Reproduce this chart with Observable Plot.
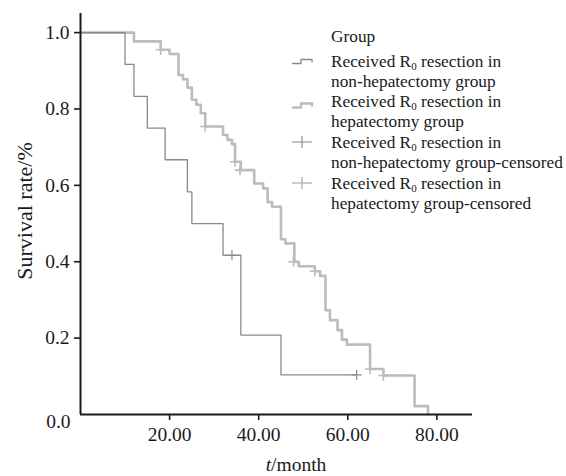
<!DOCTYPE html>
<html><head><meta charset="utf-8">
<script src="https://cdn.jsdelivr.net/npm/d3@7"></script>
<script src="https://cdn.jsdelivr.net/npm/@observablehq/plot@0.6"></script>
<style>body{margin:0;background:#fff}#chart{width:566px;height:476px}</style>
</head><body><div id="chart"></div>
<script>
// Non-hepatectomy group (Kaplan–Meier steps)
const nonHepTime = [0, 10, 12, 15, 19, 24, 25, 32, 36, 45, 62];
const nonHepSurv = [1, 0.917, 0.833, 0.75, 0.667, 0.583, 0.5, 0.417, 0.208, 0.104, 0.104];
const nonHepCensTime = [34, 62];
const nonHepCensSurv = [0.417, 0.104];
// Hepatectomy group
const hepTime = [0, 12, 18, 20, 22, 23, 24, 25, 26, 27, 28, 32, 33, 34, 34.7, 36, 39, 41, 42, 43, 45, 46, 48, 49, 52.6, 53.8, 55, 56, 57.7, 58.7, 59.8, 65, 68, 75, 78];
const hepSurv = [1, 0.977, 0.955, 0.944, 0.889, 0.878, 0.856, 0.824, 0.811, 0.789, 0.754, 0.732, 0.719, 0.708, 0.662, 0.640, 0.605, 0.592, 0.556, 0.544, 0.459, 0.448, 0.400, 0.388, 0.375, 0.363, 0.273, 0.247, 0.221, 0.196, 0.183, 0.119, 0.102, 0.022, 0];
const hepCensTime = [18, 28, 34.7, 35.8, 47.8, 52.6, 65, 68];
const hepCensSurv = [0.955, 0.754, 0.662, 0.640, 0.400, 0.375, 0.119, 0.102];

const xTicks = [20, 40, 60, 80];
const yTicks = [0.2, 0.4, 0.6, 0.8, 1.0];
const legendTitle = "Group";
const legendLines = [
  ["Received R", "0", " resection in", "non-hepatectomy group"],
  ["Received R", "0", " resection in", "hepatectomy group"],
  ["Received R", "0", " resection in", "non-hepatectomy group-censored"],
  ["Received R", "0", " resection in", "hepatectomy group-censored"]
];

const cNon = "#8a8a8a", cHep = "#bcbcbc", ink = "#1a1a1a";
const zip = (xs, ys) => xs.map((x, i) => ({x, y: ys[i]}));
const nonHep = zip(nonHepTime, nonHepSurv);
const hep = zip(hepTime, hepSurv);
const nonCens = zip(nonHepCensTime, nonHepCensSurv);
const hepCens = zip(hepCensTime, hepCensSurv);

const font = "Liberation Serif, Times New Roman, serif";
const plot = Plot.plot({
  width: 566, height: 476,
  marginLeft: 80, marginRight: 94, marginTop: 13, marginBottom: 62,
  style: {fontFamily: font, background: "#fff", color: ink, overflow: "visible"},
  x: {domain: [0, 88]},
  y: {domain: [0, 1.05]},
  marks: [
    Plot.line(hep, {x: "x", y: "y", curve: "step-after", stroke: cHep, strokeWidth: 2.6}),
    Plot.line(nonHep, {x: "x", y: "y", curve: "step-after", stroke: cNon, strokeWidth: 1.3}),
    Plot.dot(hepCens, {x: "x", y: "y", symbol: "plus", r: 3.4, stroke: cHep, strokeWidth: 1.6}),
    Plot.dot(nonCens, {x: "x", y: "y", symbol: "plus", r: 3.4, stroke: cNon, strokeWidth: 1.2}),
    Plot.axisX({ticks: xTicks, tickFormat: d3.format(".2f"), tickSize: 6, tickPadding: 7, fontSize: 19.5, label: null, stroke: ink, strokeWidth: 1.6}),
    Plot.axisY({ticks: yTicks, tickFormat: d3.format(".1f"), tickSize: 6, tickPadding: 5, fontSize: 19.5, label: null, stroke: ink, strokeWidth: 1.6}),
    Plot.text(["0.0"], {frameAnchor: "bottom-left", text: d => d, dx: -10, dy: 13, textAnchor: "end", fontSize: 19.5, fill: ink}),
    Plot.ruleY([0], {stroke: ink, strokeWidth: 2}),
    Plot.ruleX([0], {y1: 0, y2: 1.05, stroke: ink, strokeWidth: 2})
  ]
});
document.getElementById("chart").appendChild(plot);

const svg = d3.select(plot);
// axis titles
svg.append("text").attr("transform", "translate(24,211) rotate(-90)")
  .attr("text-anchor", "middle").attr("dominant-baseline", "central")
  .attr("font-size", 22).attr("fill", ink).attr("font-family", font).text("Survival rate/%");
const xl = svg.append("text").attr("x", 296).attr("y", 464)
  .attr("text-anchor", "middle").attr("dominant-baseline", "central")
  .attr("font-size", 19.5).attr("fill", ink).attr("font-family", font);
xl.append("tspan").attr("font-style", "italic").text("t");
xl.append("tspan").text("/month");

// legend
const lg = svg.append("g").attr("font-family", font).attr("font-size", 17.3).attr("fill", ink).attr("text-anchor", "start");
const tx = 331;
lg.append("text").attr("x", tx).attr("y", 36).attr("dominant-baseline", "central").text(legendTitle);
const rows = [61, 101, 142, 183];
legendLines.forEach((l, i) => {
  const t = lg.append("text").attr("x", tx).attr("y", rows[i]).attr("dominant-baseline", "central");
  t.append("tspan").text(l[0]);
  t.append("tspan").attr("dy", 5).attr("font-size", 11).text(l[1]);
  t.append("tspan").attr("dy", -5).text(l[2]);
  lg.append("text").attr("x", tx).attr("y", rows[i] + 20.5).attr("dominant-baseline", "central").text(l[3]);
});
// legend symbols
const stepPath = y => `M292,${y + 2.5}H301V${y - 1.5}H312V${y + 1.5}`;
lg.append("path").attr("d", stepPath(rows[0])).attr("fill", "none").attr("stroke", cNon).attr("stroke-width", 1.3);
lg.append("path").attr("d", stepPath(rows[1] + 4)).attr("fill", "none").attr("stroke", cHep).attr("stroke-width", 2.4);
[[rows[2], cNon, 1.2], [rows[3], cHep, 1.6]].forEach(([y, c, w]) => {
  lg.append("path").attr("d", `M292,${y}H312M302,${y - 6}V${y + 6}`).attr("stroke", c).attr("stroke-width", w).attr("fill", "none");
});
</script></body></html>
